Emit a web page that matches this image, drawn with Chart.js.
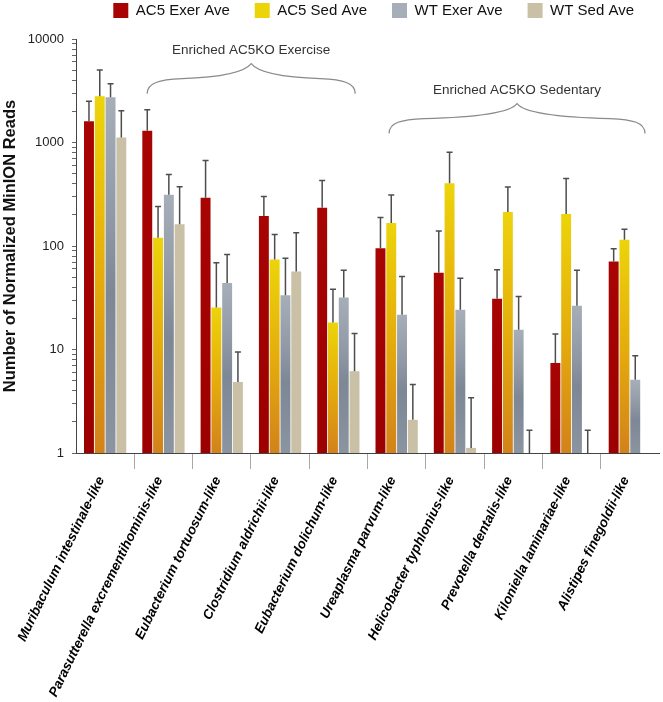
<!DOCTYPE html>
<html>
<head>
<meta charset="utf-8">
<script src="https://cdn.jsdelivr.net/npm/chart.js@4.4.1/dist/chart.umd.min.js"></script>
<style>
  html, body { margin: 0; padding: 0; background: #fff; }
</style>
</head>
<body>
<canvas id="chart" width="663" height="702"></canvas>
<script>
// categories and series (log axis)
const categories = [
  'Muribaculum intestinale-like',
  'Parasutterella excrementihominis-like',
  'Eubacterium tortuosum-like',
  'Clostridium aldrichii-like',
  'Eubacterium dolichum-like',
  'Ureaplasma parvum-like',
  'Helicobacter typhlonius-like',
  'Prevotella dentalis-like',
  'Kiloniella laminariae-like',
  'Alistipes finegoldii-like'
];
const seriesNames = ['AC5 Exer Ave', 'AC5 Sed Ave', 'WT Exer Ave', 'WT Sed Ave'];

const ac5Exer    = [1600, 1300, 293, 195, 234, 95, 55, 31, 7.4, 71];
const ac5ExerTop = [2500, 2075, 670, 301, 430, 188, 140, 59, 14.1, 94];
const ac5Sed     = [2800, 120, 25.5, 74, 18.2, 167, 405, 213, 204, 115];
const ac5SedTop  = [5030, 241, 69, 129, 38.3, 311, 806, 371, 449, 145];
const wtExer     = [2730, 313, 44, 33.5, 31.8, 21.7, 24.2, 15.5, 26.5, 5.1];
const wtExerTop  = [3690, 491, 83, 76, 58.3, 50.7, 48.8, 32.6, 58.3, 8.7];
const wtSed      = [1115, 162, 4.86, 56.6, 6.17, 2.09, 1.12, null, null, null];
const wtSedTop   = [2030, 373, 9.46, 134, 14.3, 4.59, 3.41, 1.66, 1.66, null];

const yTickLabels = [1, 10, 100, 1000, 10000];
const braceTexts = ['Enriched AC5KO Exercise', 'Enriched AC5KO Sedentary'];

const FONT = "'Liberation Sans', Arial, Helvetica, sans-serif";
Chart.defaults.font.family = FONT;

// gradient down each bar, from its top to the axis
function barFill(stops, solid) {
  return (c) => {
    const chart = c.chart;
    const area = chart.chartArea;
    if (!area || c.type !== 'data' || c.raw == null) return solid;
    const top = chart.scales.y.getPixelForValue(c.raw);
    if (!isFinite(top)) return solid;
    const g = chart.ctx.createLinearGradient(0, top, 0, area.bottom);
    stops.forEach(s => g.addColorStop(s[0], s[1]));
    return g;
  };
}

// extra room under the legend
const legendGap = {
  id: 'legendGap',
  afterInit(chart) {
    const lg = chart.legend;
    if (!lg) return;
    const fit = lg.fit;
    lg.fit = function () {
      fit.call(this);
      this.height += 11;
    };
  }
};

// upper error bars with a cap
const errorBars = {
  id: 'errorBars',
  afterDatasetsDraw(chart) {
    const { ctx, chartArea, scales: { y } } = chart;
    ctx.save();
    ctx.beginPath();
    ctx.rect(chartArea.left, chartArea.top - 2, chartArea.width, chartArea.height + 2);
    ctx.clip();
    ctx.strokeStyle = '#4d4d4d';
    ctx.lineWidth = 1.5;
    chart.data.datasets.forEach((ds, i) => {
      const meta = chart.getDatasetMeta(i);
      meta.data.forEach((bar, j) => {
        const hi = ds.errTop[j];
        if (hi == null || !isFinite(bar.x)) return;
        const yTop = y.getPixelForValue(hi);
        const yBase = ds.data[j] == null ? chartArea.bottom : y.getPixelForValue(ds.data[j]);
        ctx.beginPath();
        ctx.moveTo(bar.x, yBase);
        ctx.lineTo(bar.x, yTop);
        ctx.moveTo(bar.x - 3, yTop);
        ctx.lineTo(bar.x + 3, yTop);
        ctx.stroke();
      });
    });
    ctx.restore();
  }
};

// curly braces over the enriched groups
const braces = {
  id: 'braces',
  afterDraw(chart) {
    const { ctx, scales: { x, y } } = chart;
    const spans = [[0.72, 4.29, 2960], [4.87, 9.26, 1220]];
    ctx.save();
    ctx.strokeStyle = '#8a8a8a';
    ctx.lineWidth = 1.2;
    ctx.fillStyle = '#333';
    ctx.font = '13.5px ' + FONT;
    ctx.textAlign = 'center';
    ctx.textBaseline = 'middle';
    spans.forEach((s, k) => {
      const x0 = x.getPixelForValue(s[0]);
      const x1 = x.getPixelForValue(s[1]);
      const yEnd = y.getPixelForValue(s[2]);
      const xm = (x0 + x1) / 2, ys = yEnd - 14, yt = yEnd - 30;
      ctx.beginPath();
      ctx.moveTo(x0, yEnd);
      ctx.bezierCurveTo(x0, ys + 3, x0 + 12, ys, x0 + 35, ys - 1);
      ctx.quadraticCurveTo(xm - 10, ys - 3, xm, yt);
      ctx.quadraticCurveTo(xm + 10, ys - 3, x1 - 35, ys - 1);
      ctx.bezierCurveTo(x1 - 12, ys, x1, ys + 3, x1, yEnd);
      ctx.stroke();
      ctx.fillText(braceTexts[k], xm, yt - 13);
    });
    ctx.restore();
  }
};

const ctx = document.getElementById('chart').getContext('2d');

new Chart(ctx, {
  type: 'bar',
  data: {
    labels: categories,
    datasets: [
      {
        label: seriesNames[0], data: ac5Exer, errTop: ac5ExerTop,
        backgroundColor: barFill([[0, '#a80404'], [1, '#9c0000']], '#a30202')
      },
      {
        label: seriesNames[1], data: ac5Sed, errTop: ac5SedTop,
        backgroundColor: barFill([[0, '#ecd40a'], [0.5, '#e5ad0c'], [1, '#d2821a']], '#e2a90e')
      },
      {
        label: seriesNames[2], data: wtExer, errTop: wtExerTop,
        backgroundColor: barFill([[0, '#a6aeb9'], [0.35, '#9098a5'], [0.55, '#7d8795'], [1, '#8b94a1']], '#8d96a3')
      },
      {
        label: seriesNames[3], data: wtSed, errTop: wtSedTop,
        backgroundColor: '#c9c0a6'
      }
    ]
  },
  options: {
    responsive: false,
    animation: false,
    borderWidth: 0,
    categoryPercentage: 0.74,
    barPercentage: 0.92,
    layout: { padding: { top: -22, right: 4, left: 0, bottom: 0 } },
    plugins: {
      legend: {
        position: 'top',
        align: 'end',
        labels: {
          boxWidth: 15,
          boxHeight: 15,
          padding: 25,
          color: '#111',
          font: { size: 15 }
        }
      },
      tooltip: { enabled: false }
    },
    scales: {
      x: {
        grid: {
          display: true,
          drawOnChartArea: false,
          offset: true,
          tickLength: 16,
          color: c => (c.index > 0 && c.index < categories.length) ? '#a8a8a8' : 'rgba(0,0,0,0)'
        },
        border: { color: '#444', width: 1 },
        ticks: {
          autoSkip: false,
          minRotation: 64,
          maxRotation: 64,
          padding: 5,
          labelOffset: -4,
          color: '#000',
          font: { size: 13.5, weight: 'bold', style: 'italic' }
        },
        afterFit: s => { s.height = 249; }
      },
      y: {
        type: 'logarithmic',
        min: 1,
        max: 10000,
        grid: { drawOnChartArea: false, tickLength: 4, color: '#666' },
        border: { color: '#444', width: 1 },
        afterBuildTicks: s => {
          s.ticks = s.ticks.filter(t => {
            const p = Math.pow(10, Math.floor(Math.log10(t.value) + 1e-9));
            return Math.abs(t.value / p - Math.round(t.value / p)) < 1e-6;
          });
        },
        ticks: {
          autoSkip: false,
          padding: 8,
          color: '#222',
          font: { size: 13 },
          callback: v => yTickLabels.includes(v) ? String(v) : ''
        },
        title: {
          display: true,
          text: 'Number of Normalized MinION Reads',
          color: '#111',
          font: { size: 16.5, weight: 'bold' },
          padding: { top: 1, bottom: 2 }
        },
        afterFit: s => { s.width = 76; }
      }
    }
  },
  plugins: [legendGap, errorBars, braces]
});
</script>
</body>
</html>
